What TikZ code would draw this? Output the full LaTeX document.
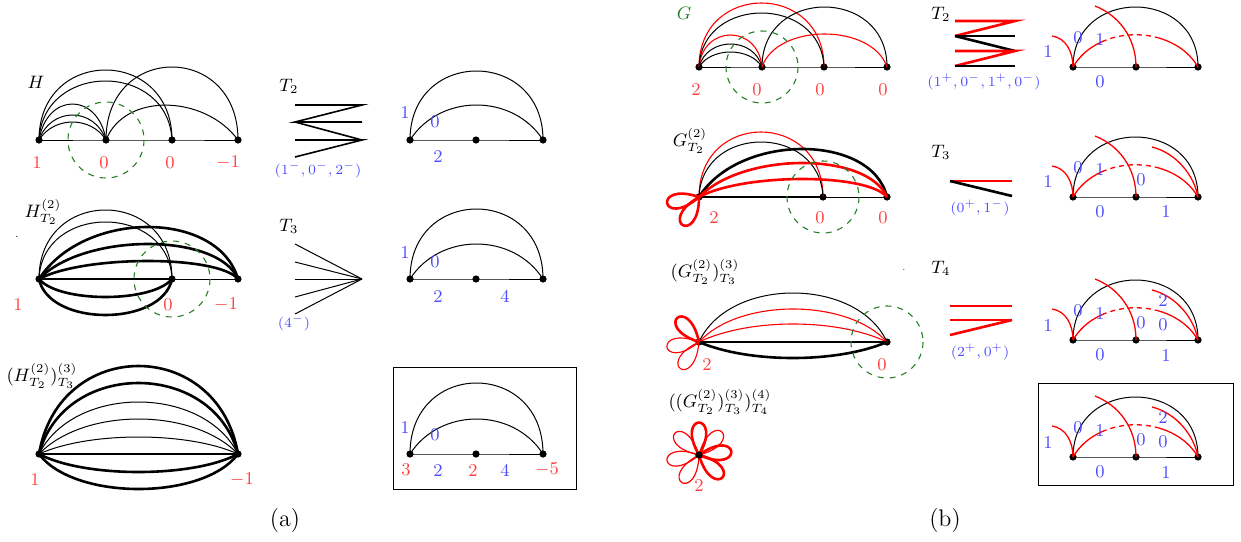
\documentclass[tikz,border=0pt]{standalone}
\usetikzlibrary{calc}
\definecolor{lred}{rgb}{1,0.25,0.25}
\definecolor{lblue}{rgb}{0.3,0.3,1}
\definecolor{dgreen}{rgb}{0.15,0.5,0.15}
\newcommand{\uarc}[5][]{\draw[#1] (#2.center) .. controls +(#4,{-1.3333*(#5)}) and +({-(#4)},{-1.3333*(#5)}) .. (#3.center);}
\newcommand{\sarc}[6][]{\draw[#1] (#2.center) .. controls +(#4,{-1.3333*(#6)}) and +({-(#5)},{-1.3333*(#6)}) .. (#3.center);}
\newcommand{\petal}[3][]{\draw[#1] (#2.center) .. controls +(#3-30:50) and +(#3+30:50) .. (#2.center);}
\begin{document}
\begin{tikzpicture}[x=0.5pt,y=-0.5pt,
  vtx/.style={circle,fill=black,inner sep=0pt,minimum size=3.6pt},
  thn/.style={line width=0.5pt},
  thk/.style={line width=1.3pt},
  med/.style={line width=0.8pt},
  rthn/.style={red,line width=0.55pt},
  rthk/.style={red,line width=1.3pt},
  gcirc/.style={dgreen,dashed,line width=0.55pt},
  rl/.style={text=lred,inner sep=0pt,font=\small},
  bl/.style={text=lblue,inner sep=0pt,font=\small},
  tl/.style={text=lblue,inner sep=0pt,font=\fontsize{7.5}{9}\selectfont},
  kl/.style={inner sep=0pt,font=\small},
  redarc/.style={red,line width=0.65pt}]
\useasboundingbox (0,0) rectangle (1241,541);

% ================= (a) row 1 : H
\node[vtx] (a1) at (39,140) {};
\node[vtx] (a2) at (106,140) {};
\node[vtx] (a3) at (172,140) {};
\node[vtx] (a4) at (238,140) {};
\draw[thn] (a1.center) -- (a2.center) -- (a3.center) -- (a4.center);
\uarc[thn]{a1}{a2}{15}{18}
\uarc[thn]{a1}{a2}{12}{25}
\uarc[thn]{a1}{a2}{8}{36}
\uarc[thn]{a1}{a3}{0}{70}
\uarc[thn]{a1}{a3}{4}{59}
\uarc[thn]{a2}{a4}{0}{73}
\draw[thn] (a2.center) .. controls +(19,-48) and +(-33,-45) .. (a4.center);
\draw[gcirc] (a2.center) circle[radius=38];
\node[kl] (lH) at (36,82) {$H$};
\node[rl] (la1) at (37,163) {$1$};
\node[rl] (la2) at (104,163) {$0$};
\node[rl] (la3) at (170,163) {$0$};
\node[rl] (la4) at (228,163) {$-1$};

% T2 (a)
\node[kl] (lT2a) at (289,86) {$T_2$};
\draw[med] (295,105) -- (362,105) -- (295,122) -- (362,122);
\draw[med] (295,122) -- (362,140);
\draw[med] (295,140) -- (362,140) -- (295,157);
\node[tl] (lT2av) at (318,170) {$(1^-,0^-,2^-)$};

% right (a) row 1
\node[vtx] (r1) at (410,140) {};
\node[vtx] (r2) at (476,140) {};
\node[vtx] (r3) at (543,140) {};
\draw[thn] (r1.center) -- (r2.center) -- (r3.center);
\uarc[thn]{r1}{r3}{0}{69}
\uarc[thn]{r1}{r3}{30}{35}
\node[bl] (lr1) at (405,113) {1};
\node[bl] (lr2) at (435,122) {0};
\node[bl] (lr3) at (438,157) {2};

% ================= (a) row 2
\node[vtx] (b1) at (39,279) {};
\node[vtx] (b2) at (172,279) {};
\node[vtx] (b3) at (238,279) {};
\draw[thk] (b1.center) -- (b2.center);
\draw[thn] (b2.center) -- (b3.center);
\uarc[thn]{b1}{b2}{0}{69}
\uarc[thn]{b1}{b2}{3}{57}
\sarc[thk]{b1}{b3}{45}{20}{52}
\sarc[thk]{b1}{b3}{45}{20}{35}
\sarc[thk]{b1}{b3}{45}{20}{18}
\uarc[thk]{b1}{b2}{20}{-18}
\uarc[thk]{b1}{b2}{10}{-36}
\draw[gcirc] (b2.center) circle[radius=38];
\node[kl] (lH2) at (43,212) {$H^{(2)}_{T_2}$};
\node[kl] (dot1) at (17,237) {\tiny .};
\node[rl] (lb1) at (18,305) {$1$};
\node[rl] (lb2) at (168,305) {$0$};
\node[rl] (lb3) at (226,305) {$-1$};

% T3 (a)
\node[kl] (lT3a) at (289,226) {$T_3$};
\coordinate (f0) at (362,279);
\foreach \yy in {244,262,279,297,314} \draw[thn] (f0) -- (295,\yy);
\node[tl] (lT3av) at (294,323) {$(4^-)$};

% right (a) row 2
\node[vtx] (s1) at (410,279) {};
\node[vtx] (s2) at (476,279) {};
\node[vtx] (s3) at (543,279) {};
\draw[thn] (s1.center) -- (s2.center) -- (s3.center);
\uarc[thn]{s1}{s3}{0}{70}
\uarc[thn]{s1}{s3}{30}{35}
\node[bl] (ls1) at (405,252) {1};
\node[bl] (ls2) at (435,262) {0};
\node[bl] (ls3) at (438,296) {2};
\node[bl] (ls4) at (505,296) {4};

% ================= (a) row 3
\node[vtx] (c1) at (39,454) {};
\node[vtx] (c2) at (238,454) {};
\draw[thk] (c1.center) -- (c2.center);
\uarc[thk]{c1}{c2}{20}{88}
\uarc[thk]{c1}{c2}{25}{71}
\uarc[thn]{c1}{c2}{35}{52}
\uarc[thn]{c1}{c2}{45}{35}
\uarc[thn]{c1}{c2}{50}{17}
\uarc[thk]{c1}{c2}{45}{-18}
\uarc[thk]{c1}{c2}{35}{-35}
\node[kl] (lH3) at (42,376) {$(H^{(2)}_{T_2})^{(3)}_{T_3}$};
\node[rl] (lc1) at (35,480) {$1$};
\node[rl] (lc2) at (242,480) {$-1$};

% right (a) row 3 (boxed)
\draw[thn] (393,367) rectangle (576,489);
\node[vtx] (t1) at (410,454) {};
\node[vtx] (t2) at (476,454) {};
\node[vtx] (t3) at (543,454) {};
\draw[thn] (t1.center) -- (t2.center) -- (t3.center);
\uarc[thn]{t1}{t3}{0}{71}
\uarc[thn]{t1}{t3}{30}{35}
\node[bl] (lt1) at (405,427) {1};
\node[bl] (lt2) at (435,435) {0};
\node[rl] (lt3) at (406,470) {3};
\node[bl] (lt4) at (438,470) {2};
\node[rl] (lt5) at (473,470) {2};
\node[bl] (lt6) at (505,470) {4};
\node[rl] (lt7) at (547,470) {$-5$};

\node[inner sep=0pt,font=\large] (capa) at (285,521) {(a)};

% ================= (b) row 1 : G
\node[vtx] (g1) at (699,67) {};
\node[vtx] (g2) at (762,67) {};
\node[vtx] (g3) at (824,67) {};
\node[vtx] (g4) at (887,67) {};
\draw[thn] (g1.center) -- (g2.center) -- (g3.center) -- (g4.center);
\uarc[thn]{g1}{g2}{12}{15}
\uarc[thn]{g1}{g2}{8}{23}
\uarc[rthn]{g1}{g2}{4}{32}
\uarc[rthn]{g1}{g3}{0}{64}
\uarc[thn]{g1}{g3}{3}{54}
\uarc[thn]{g2}{g4}{0}{60}
\uarc[rthn]{g2}{g4}{15}{33}
\draw[gcirc] (g2.center) circle[radius=36];
\node[kl,text=dgreen] (lG) at (684,13) {$G$};
\node[rl] (lg1) at (696,90) {$2$};
\node[rl] (lg2) at (757,90) {$0$};
\node[rl] (lg3) at (820,90) {$0$};
\node[rl] (lg4) at (883,90) {$0$};

% T2 (b)
\node[kl] (lT2b) at (941,14) {$T_2$};
\draw[rthk] (955,21) -- (1015,21) -- (955,36);
\draw[thk] (955,36) -- (1015,36);
\draw[thk] (955,36) -- (1015,51);
\draw[rthk] (955,51) -- (1015,51) -- (955,66);
\draw[thk] (955,66) -- (1015,66);
\node[tl] (lT2bv) at (984,82) {$(1^+,0^-,1^+,0^-)$};

% ================= (b) row 2
\node[vtx] (h1) at (699,197) {};
\node[vtx] (h2) at (823,197) {};
\node[vtx] (h3) at (887,197) {};
\draw[thk] (h1.center) -- (h2.center);
\draw[thn] (h2.center) -- (h3.center);
\uarc[rthn]{h1}{h2}{0}{65}
\uarc[thn]{h1}{h2}{3}{55}
\sarc[thk]{h1}{h3}{40}{15}{48}
\sarc[rthk]{h1}{h3}{45}{20}{34}
\sarc[rthk]{h1}{h3}{45}{20}{18}
\petal[rthk]{h1}{169}
\petal[rthk]{h1}{120}
\draw[gcirc] (h2.center) circle[radius=36];
\node[kl] (lG2) at (690,141) {$G^{(2)}_{T_2}$};
\node[rl] (lh1) at (714,218) {$2$};
\node[rl] (lh2) at (820,218) {$0$};
\node[rl] (lh3) at (883,218) {$0$};

% T3 (b)
\node[kl] (lT3b) at (941,152) {$T_3$};
\draw[rthk] (950,181) -- (1012,181);
\draw[thk] (950,181) -- (1012,196);
\node[tl] (lT3bv) at (980,208) {$(0^+,1^-)$};

% ================= (b) row 3
\node[vtx] (i1) at (699,342) {};
\node[vtx] (i2) at (887,342) {};
\draw[thk] (i1.center) -- (i2.center);
\uarc[thn]{i1}{i2}{30}{49}
\uarc[rthn]{i1}{i2}{40}{33}
\uarc[rthn]{i1}{i2}{50}{18}
\uarc[thk]{i1}{i2}{50}{-16}
\petal[rthk]{i1}{228}
\petal[rthn]{i1}{171}
\petal[rthn]{i1}{125}
\draw[gcirc] (i2.center) circle[radius=36];
\node[kl] (lG3) at (705,272) {$(G^{(2)}_{T_2})^{(3)}_{T_3}$};
\node[rl] (li1) at (707,365) {$2$};
\node[rl] (li2) at (882,365) {$0$};
\node[kl,text=red] (dot2) at (904,270) {\tiny .};

% T4 (b)
\node[kl] (lT4b) at (941,268) {$T_4$};
\draw[rthk] (950,306) -- (1012,306);
\draw[rthk] (950,320) -- (1012,320);
\draw[rthk] (950,335) -- (1012,320);
\node[tl] (lT4bv) at (980,352) {$(2^+,0^+)$};

% ================= (b) row 4 : flower
\node[vtx] (j1) at (699,455) {};
\foreach \ang/\lw in {-90/1.3,-45/0.6,-6/1.3,44/1.3,122/0.6,170/0.6,-138/0.6}
  \petal[red,line width=\lw pt]{j1}{\ang};
\node[vtx] (j1b) at (699,455) {};
\node[kl] (lG4) at (720,402) {$((G^{(2)}_{T_2})^{(3)}_{T_3})^{(4)}_{T_4}$};
\node[rl] (lj1) at (699,486) {$2$};

% ================= (b) right column small diagrams
\draw[thn] (1038,383) rectangle (1233,485);
\foreach \rw/\Y in {1/67,2/197,3/340,4/457}{
  \node[vtx] (q\rw-a) at (1073,\Y) {};
  \node[vtx] (q\rw-b) at (1136,\Y) {};
  \node[vtx] (q\rw-c) at (1198,\Y) {};
  \draw[thn] (q\rw-a.center) -- (q\rw-b.center) -- (q\rw-c.center);
  \uarc[thn]{q\rw-a}{q\rw-c}{0}{60}
  \draw[redarc,dash pattern=on 22pt off 2pt on 2.5pt off 2pt on 2.5pt off 2pt on 2.5pt off 2pt on 2.5pt off 2pt on 2.5pt off 2pt on 60pt]
     (q\rw-a.center) .. controls +(25,-43) and +(-25,-43) .. (q\rw-c.center);
  \coordinate (e\rw-a) at (1052,\Y-31);
  \draw[redarc] (e\rw-a) .. controls (1066,\Y-29) and (1073,\Y-15) .. (q\rw-a.center);
  \coordinate (e\rw-b) at (1095,\Y-61);
  \draw[redarc] (e\rw-b) .. controls (1118,\Y-52) and (1136,\Y-30) .. (q\rw-b.center);
  \node[bl] (m\rw-1) at (1048,\Y-15) {1};
  \node[bl] (m\rw-2) at (1078,\Y-29) {0};
  \node[bl] (m\rw-3) at (1100,\Y-27) {1};
  \node[bl] (m\rw-4) at (1100,\Y+15) {0};
  \ifnum\rw>1
    \coordinate (e\rw-c) at (1152,\Y-50);
    \draw[redarc] (e\rw-c) .. controls (1176,\Y-44) and (1194,\Y-22) .. (q\rw-c.center);
    \node[bl] (m\rw-5) at (1141,\Y-17) {0};
    \node[bl] (m\rw-6) at (1166,\Y+15) {1};
  \fi
  \ifnum\rw>2
    \node[bl] (m\rw-7) at (1163,\Y-40) {2};
    \node[bl] (m\rw-8) at (1163,\Y-15) {0};
  \fi
}

\node[inner sep=0pt,font=\large] (capb) at (945,521) {(b)};
\end{tikzpicture}
\end{document}
